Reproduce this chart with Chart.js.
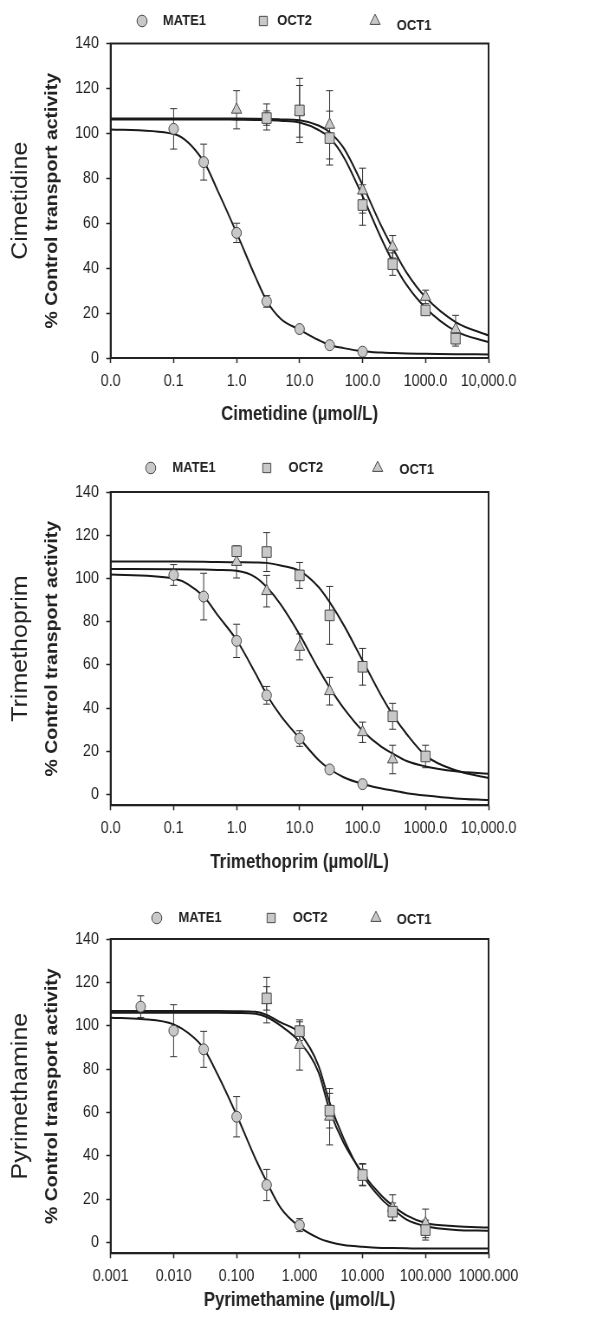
<!DOCTYPE html>
<html>
<head>
<meta charset="utf-8">
<title>MATE1 / OCT2 / OCT1 inhibition</title>
<script src="https://cdn.jsdelivr.net/npm/chart.js"></script>
<style>
  html, body { margin: 0; padding: 0; background: #fff; }
  #wrap { position: relative; width: 602px; height: 1318px; overflow: hidden; }
  /* figure is drawn 695 px wide and shown 602 px wide, like the source image */
  canvas { position: absolute; left: 0; width: 602px; }
</style>
</head>
<body>
<div id="wrap">
  <canvas id="cim" width="695" height="447" style="top:0;width:602px;height:447px"></canvas>
  <canvas id="tri" width="695" height="447" style="top:447px;width:602px;height:447px"></canvas>
  <canvas id="pyr" width="695" height="424" style="top:894px;width:602px;height:424px"></canvas>
</div>
<script>
// ---- Cimetidine ----
const cimTicks = [0.01, 0.1, 1, 10, 100, 1000, 10000];
const cimTickLabels = ['0.0', '0.1', '1.0', '10.0', '100.0', '1000.0', '10,000.0'];
const cimMateX = [0.1, 0.3, 1, 3, 10, 30, 100];
const cimMateY = [102.0, 87.2, 55.7, 25.2, 12.9, 5.7, 2.8];
const cimMateErr = [9, 8, 4.3, 2.6, 0.6, 0.5, 0.4];
const cimOct2X = [3, 10, 30, 100, 300, 1000, 3000];
const cimOct2Y = [106.8, 110.2, 97.9, 68.1, 41.8, 21.2, 8.6];
const cimOct2Err = [3.2, 14.3, 12, 9, 5, 2, 3.3];
const cimOct1X = [1, 3, 10, 30, 100, 300, 1000, 3000];
const cimOct1Y = [110.5, 107.3, 109.8, 103.8, 74.5, 49.5, 27.2, 12.7];
const cimOct1Err = [8.5, 5.8, 11.5, 15.2, 10, 5, 3, 6.3];
// fitted curves
const cimFitX = [0.01, 0.1, 0.3, 0.5, 1, 2, 3, 5, 10, 20, 30, 50, 100, 200, 300, 500, 1000, 3000, 10000];
const cimFitMate = [101.7, 99.7, 87.5, 74.5, 55.7, 36, 25.5, 17.5, 12.6, 8.0, 5.8, 4.4, 3.0, 2.4, 2.2, 2.0, 1.9, 1.7, 1.6];
const cimFitOct2 = [106.2, 106.2, 106.2, 106.2, 106.1, 106.0, 105.9, 105.6, 104.8, 101.5, 98, 89.5, 72, 53, 43, 32.5, 22.3, 12, 7.1];
const cimFitOct1 = [106.6, 106.6, 106.6, 106.6, 106.6, 106.5, 106.4, 106.2, 105.8, 103.5, 100.5, 93.5, 77, 58.5, 49, 38, 27, 16, 10];

// ---- Trimethoprim ----
const triTicks = [0.01, 0.1, 1, 10, 100, 1000, 10000];
const triTickLabels = ['0.0', '0.1', '1.0', '10.0', '100.0', '1000.0', '10,000.0'];
const triMateX = [0.1, 0.3, 1, 3, 10, 30, 100];
const triMateY = [101.6, 91.6, 71.1, 45.9, 25.9, 11.6, 4.8];
const triMateErr = [4.8, 10.8, 7.7, 4.1, 3.6, 1.5, 0.5];
const triOct2X = [1, 3, 10, 30, 100, 300, 1000];
const triOct2Y = [112.6, 112.2, 101.4, 82.9, 59.1, 36.2, 17.6];
const triOct2Err = [2.3, 9, 6, 13.4, 8.5, 6, 5.2];
const triOct1X = [1, 3, 10, 30, 100, 300];
const triOct1Y = [107.6, 94.1, 68.3, 47.8, 28.8, 16.2];
const triOct1Err = [7.4, 7.3, 6, 6.4, 4.7, 6.6];
const triFitX = [0.01, 0.1, 0.3, 0.5, 1, 2, 3, 5, 10, 20, 30, 50, 100, 200, 300, 500, 1000, 3000, 10000];
const triFitMate = [101.8, 100.0, 91.6, 83, 71.5, 56, 46.3, 36.5, 26, 16, 11.8, 8, 4.9, 2.8, 1.8, 0.6, -0.5, -1.8, -2.6];
const triFitOct2 = [107.8, 107.8, 107.7, 107.6, 107.5, 107.4, 107.2, 106, 103.5, 96, 89, 78.5, 62, 45.5, 37, 28, 18, 11.2, 7.6];
const triFitOct1 = [104.4, 104.3, 104.1, 103.9, 103.5, 100.5, 96, 88, 74, 58, 49.5, 40, 29.5, 22, 19, 15.5, 13, 10.8, 9.6];

// ---- Pyrimethamine ----
const pyrTicks = [0.001, 0.01, 0.1, 1, 10, 100, 1000];
const pyrTickLabels = ['0.001', '0.010', '0.100', '1.000', '10.000', '100.000', '1000.000'];
const pyrMateX = [0.003, 0.01, 0.03, 0.1, 0.3, 1];
const pyrMateY = [108.8, 97.7, 89.1, 58, 26.5, 8];
const pyrMateErr = [5, 12, 8.3, 9.3, 7.2, 3];
const pyrOct2X = [0.3, 1, 3, 10, 30, 100];
const pyrOct2Y = [112.6, 97.5, 60.8, 31.1, 14.2, 5.7];
const pyrOct2Err = [5.4, 4.3, 8, 5, 4, 4.6];
const pyrOct1X = [0.3, 1, 3, 10, 30, 100];
const pyrOct1Y = [111.8, 91.1, 58, 31.4, 16, 8.8];
const pyrOct1Err = [10.5, 11.6, 13, 5, 6, 6.6];
const pyrFitX = [0.001, 0.003, 0.01, 0.02, 0.03, 0.05, 0.1, 0.2, 0.3, 0.5, 1, 2, 3, 5, 10, 20, 30, 50, 100, 300, 1000];
const pyrFitMate = [103.7, 103.1, 100.6, 95, 89.5, 77.5, 58.8, 38.5, 28, 16, 7.2, 2, 0.2, -1.2, -2, -2.5, -2.6, -2.7, -2.8, -2.8, -2.8];
const pyrFitOct2 = [106.8, 106.8, 106.8, 106.8, 106.8, 106.8, 106.7, 106.4, 105, 101.5, 96.5, 81.5, 64.5, 48, 31, 20, 15.5, 10.5, 7.5, 5.8, 5.4];
const pyrFitOct1 = [106.0, 106.0, 106.0, 106.0, 106.0, 106.0, 105.9, 105.5, 104, 100, 92.5, 78.5, 61, 46, 32, 21.5, 17, 12.5, 9, 7.5, 6.9];

const yTicks = [0, 20, 40, 60, 80, 100, 120, 140];
const seriesNames = ['MATE1', 'OCT2', 'OCT1'];

const FONT = '"Liberation Sans", Arial, Helvetica, sans-serif';
const INK = '#222';
const MARK_FILL = '#c8c8c8';
const MARK_EDGE = '#474747';

Chart.defaults.font.family = FONT;
Chart.defaults.color = INK;

function pts(xs, ys) {
  return xs.map((x, i) => ({x: x, y: ys[i]}));
}

// vertical error bars with caps, under the markers
const errorBars = {
  id: 'errorBars',
  beforeDatasetsDraw(chart) {
    const ctx = chart.ctx;
    const xs = chart.scales.x, ys = chart.scales.y;
    ctx.save();
    ctx.strokeStyle = '#333';
    ctx.lineWidth = 1;
    chart.data.datasets.forEach(ds => {
      if (!ds.errors) return;
      ds.data.forEach((p, i) => {
        const e = ds.errors[i];
        const px = xs.getPixelForValue(p.x);
        const top = ys.getPixelForValue(p.y + e);
        const bot = ys.getPixelForValue(p.y - e);
        ctx.beginPath();
        ctx.moveTo(px, top); ctx.lineTo(px, bot);
        ctx.moveTo(px - 4, top); ctx.lineTo(px + 4, top);
        ctx.moveTo(px - 4, bot); ctx.lineTo(px + 4, bot);
        ctx.stroke();
      });
    });
    ctx.restore();
  }
};

// closed box round the plot
const frame = {
  id: 'frame',
  afterDraw(chart) {
    const {ctx, chartArea: a} = chart;
    ctx.save();
    ctx.strokeStyle = INK;
    ctx.lineWidth = 2;
    ctx.strokeRect(a.left, a.top, a.right - a.left, a.bottom - a.top);
    ctx.restore();
  }
};

// legend row above the plot, markers taken from the datasets
const panelLegend = {
  id: 'panelLegend',
  afterDraw(chart, args, opts) {
    const ctx = chart.ctx;
    const marks = chart.data.datasets.filter(d => d.errors);
    ctx.save();
    ctx.font = 'bold 15px ' + FONT;
    ctx.textBaseline = 'middle';
    ctx.textAlign = 'left';
    marks.forEach((ds, i) => {
      const it = opts.items[i];
      ctx.fillStyle = MARK_FILL;
      ctx.strokeStyle = MARK_EDGE;
      ctx.lineWidth = 1;
      Chart.helpers.drawPoint(ctx, {pointStyle: ds.pointStyle, radius: it.r, rotation: 0, borderWidth: 1}, it.mx, opts.y);
      ctx.fillStyle = INK;
      ctx.fillText(ds.label, it.tx, opts.y + it.dy);
    });
    ctx.restore();
  }
};

function markerSet(label, style, radius, xs, ys, errs) {
  return {
    label: label, data: pts(xs, ys), errors: errs,
    showLine: false, order: 1,
    pointStyle: style, pointRadius: radius, pointHoverRadius: radius,
    pointBackgroundColor: MARK_FILL, pointBorderColor: MARK_EDGE, pointBorderWidth: 1
  };
}

function curveSet(xs, ys) {
  return {
    data: pts(xs, ys), order: 2,
    borderColor: '#1a1a1a', borderWidth: 2, pointRadius: 0,
    cubicInterpolationMode: 'monotone', fill: false
  };
}

function drawPanel(id, p) {
  const ctx = document.getElementById(id).getContext('2d');
  return new Chart(ctx, {
    type: 'line',
    data: {
      datasets: [
        curveSet(p.fitX, p.fitMate),
        curveSet(p.fitX, p.fitOct2),
        curveSet(p.fitX, p.fitOct1),
        markerSet(seriesNames[0], 'circle', 5.5, p.mateX, p.mateY, p.mateErr),
        markerSet(seriesNames[1], 'rect', 7.5, p.oct2X, p.oct2Y, p.oct2Err),
        markerSet(seriesNames[2], 'triangle', 6.8, p.oct1X, p.oct1Y, p.oct1Err)
      ]
    },
    options: {
      responsive: false,
      animation: false,
      events: [],
      layout: { padding: { top: p.padTop, right: 131, bottom: p.padBottom, left: 0 } },
      plugins: {
        legend: { display: false },
        tooltip: { enabled: false },
        title: {
          display: true, position: 'left', fullSize: false, text: p.drug, color: INK,
          font: { size: 25, weight: 'normal', family: FONT },
          padding: { top: 9, bottom: 3 }
        },
        panelLegend: p.legend
      },
      scales: {
        x: {
          type: 'logarithmic', min: p.ticks[0], max: p.ticks[p.ticks.length - 1],
          afterBuildTicks: s => { s.ticks = p.ticks.map(v => ({value: v})); },
          afterFit: s => { s.height = p.xAxisH; },
          ticks: {
            callback: (v, i) => p.tickLabels[i],
            autoSkip: false, maxRotation: 0, minRotation: 0,
            padding: 8.5, color: INK, font: { size: 16.5 }
          },
          grid: { drawOnChartArea: false, drawTicks: true, tickLength: 5, tickColor: INK, tickWidth: 1.5 },
          border: { color: INK, width: 2 },
          title: {
            display: true, text: p.drug + ' (\u00b5mol/L)', color: INK,
            font: { size: 19.5, weight: 'bold' },
            padding: { top: 0, bottom: p.xTitlePad }
          }
        },
        y: {
          min: p.yMin, max: 140,
          afterBuildTicks: s => { s.ticks = yTicks.map(v => ({value: v})); },
          afterFit: s => { s.width = 85.7; },
          ticks: { padding: 8.5, color: INK, font: { size: 16.5 } },
          grid: { drawOnChartArea: false, drawTicks: true, tickLength: 5, tickColor: INK, tickWidth: 1.5 },
          border: { color: INK, width: 2 },
          title: {
            display: true, text: '% Control transport activity', color: INK,
            font: { size: 19.5, weight: 'bold' },
            padding: { top: 6.9, bottom: 0 }
          }
        }
      }
    },
    plugins: [errorBars, frame, panelLegend]
  });
}

drawPanel('cim', {
  drug: 'Cimetidine', ticks: cimTicks, tickLabels: cimTickLabels, yMin: 0,
  mateX: cimMateX, mateY: cimMateY, mateErr: cimMateErr,
  oct2X: cimOct2X, oct2Y: cimOct2Y, oct2Err: cimOct2Err,
  oct1X: cimOct1X, oct1Y: cimOct1Y, oct1Err: cimOct1Err,
  fitX: cimFitX, fitMate: cimFitMate, fitOct2: cimFitOct2, fitOct1: cimFitOct1,
  padTop: 43.5, padBottom: 17, xAxisH: 72, xTitlePad: 3.3,
  legend: { y: 21, items: [
    { mx: 164, tx: 188, r: 5.8, dy: 0 },
    { mx: 304, tx: 320, r: 6.6, dy: 0 },
    { mx: 433, tx: 458, r: 6.8, dy: 5 }
  ] }
});

drawPanel('tri', {
  drug: 'Trimethoprim', ticks: triTicks, tickLabels: triTickLabels, yMin: -5,
  mateX: triMateX, mateY: triMateY, mateErr: triMateErr,
  oct2X: triOct2X, oct2Y: triOct2Y, oct2Err: triOct2Err,
  oct1X: triOct1X, oct1Y: triOct1Y, oct1Err: triOct1Err,
  fitX: triFitX, fitMate: triFitMate, fitOct2: triFitOct2, fitOct1: triFitOct1,
  padTop: 45, padBottom: 16.7, xAxisH: 72, xTitlePad: 3.3,
  legend: { y: 21, items: [
    { mx: 174, tx: 199, r: 5.8, dy: 0 },
    { mx: 308, tx: 333, r: 6.6, dy: 0 },
    { mx: 436, tx: 461, r: 6.8, dy: 2 }
  ] }
});

drawPanel('pyr', {
  drug: 'Pyrimethamine', ticks: pyrTicks, tickLabels: pyrTickLabels, yMin: -5,
  mateX: pyrMateX, mateY: pyrMateY, mateErr: pyrMateErr,
  oct2X: pyrOct2X, oct2Y: pyrOct2Y, oct2Err: pyrOct2Err,
  oct1X: pyrOct1X, oct1Y: pyrOct1Y, oct1Err: pyrOct1Err,
  fitX: pyrFitX, fitMate: pyrFitMate, fitOct2: pyrFitOct2, fitOct1: pyrFitOct1,
  padTop: 45, padBottom: 0.7, xAxisH: 64, xTitlePad: 4.8,
  legend: { y: 24, items: [
    { mx: 181, tx: 206, r: 5.8, dy: 0 },
    { mx: 313, tx: 338, r: 6.6, dy: 0 },
    { mx: 434, tx: 458, r: 6.8, dy: 2 }
  ] }
});
</script>
</body>
</html>
